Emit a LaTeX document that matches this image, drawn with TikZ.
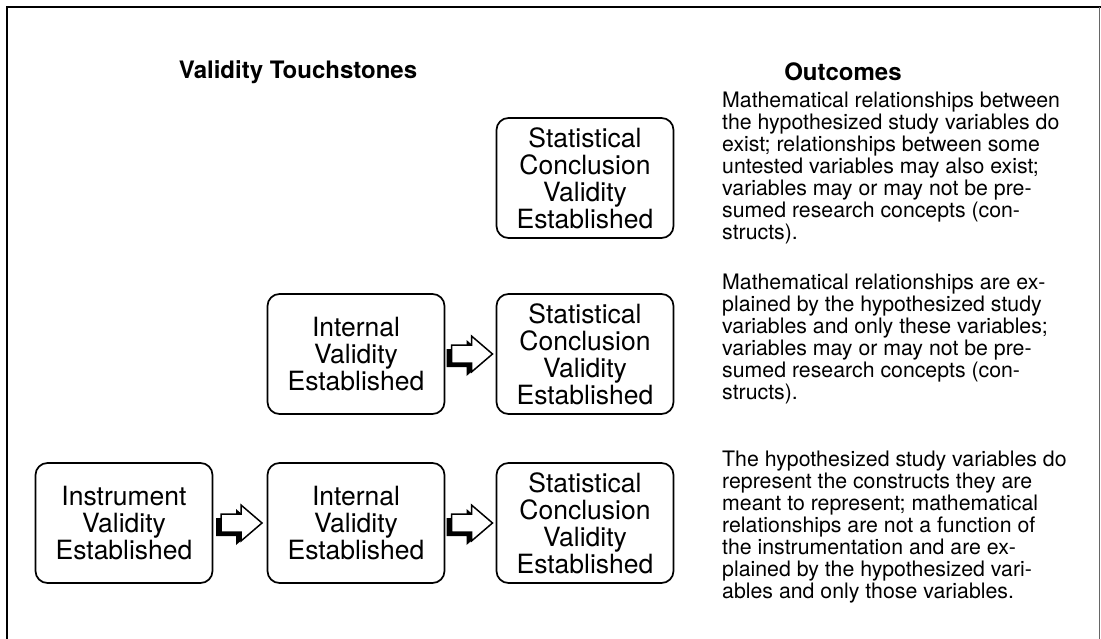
\documentclass[tikz,border=0pt]{standalone}
\usepackage{fontspec}
\setmainfont{TeX Gyre Heros}
\usetikzlibrary{calc}

\tikzset{
  vbox/.style={draw, line width=1.7pt, rounded corners=12pt,
    minimum width=177pt, minimum height=120pt, inner sep=0pt,
    align=center, font=\fontsize{26.5}{27}\selectfont},
  outtext/.style={anchor=north west, align=left, inner sep=0pt,
    font=\fontsize{21.3}{22}\selectfont},
  heading/.style={font=\bfseries\fontsize{24}{28}\selectfont},
  arrowshadow/.style={fill=black},
  arrowface/.style={fill=white, draw=black, line width=1.5pt, line join=miter},
}

% Hollow block arrow with a dark drop shadow, centred between two nodes
\newcommand\flowarrow[2]{%
  \coordinate (fa) at ($(#1.east)!0.5!(#2.west)$);
  \fill[arrowshadow, shift={(fa)}, xshift=-5pt, yshift=-4pt]
    (-19,-9) -- (1,-9) -- (1,-18) -- (22,0) -- (1,18) -- (1,9) -- (-19,9) -- cycle;
  \filldraw[arrowface, shift={(fa)}]
    (-19,-9) -- (1,-9) -- (1,-18) -- (22,0) -- (1,18) -- (1,9) -- (-19,9) -- cycle;
}

\begin{document}
\begin{tikzpicture}[x=1pt, y=-1pt]
  \path[use as bounding box] (0,0) rectangle (1101,639);

  % outer frame
  \draw[line width=2pt] (7,639) -- (7,7) -- (1101,7);
  \draw[line width=0.6pt, black!60] (1099,7) -- (1099,639);

  % column headings
  \node[heading] (h1) at (298,72) {Validity Touchstones};
  \node[heading] (h2) at (843,72) {Outcomes};

  % first row
  \node[vbox] (s1) at (585,178) {Statistical\\Conclusion\\Validity\\Established};

  % second row
  \node[vbox] (i2) at (356,354) {Internal\\Validity\\Established};
  \node[vbox] (s2) at (585,354) {Statistical\\Conclusion\\Validity\\Established};
  \flowarrow{i2}{s2}

  % third row
  \node[vbox] (m3) at (124,523) {Instrument\\Validity\\Established};
  \node[vbox] (i3) at (356,523) {Internal\\Validity\\Established};
  \node[vbox] (s3) at (585,523) {Statistical\\Conclusion\\Validity\\Established};
  \flowarrow{m3}{i3}
  \flowarrow{i3}{s3}

  % outcomes
  \node[outtext] (o1) at (722,92) {Mathematical relationships between\\
    the hypothesized study variables do\\
    exist; relationships between some\\
    untested variables may also exist;\\
    variables may or may not be pre-\\
    sumed research concepts (con-\\
    structs).};
  \node[outtext] (o2) at (722,274) {Mathematical relationships are ex-\\
    plained by the hypothesized study\\
    variables and only these variables;\\
    variables may or may not be pre-\\
    sumed research concepts (con-\\
    structs).};
  \node[outtext] (o3) at (722,451) {The hypothesized study variables do\\
    represent the constructs they are\\
    meant to represent; mathematical\\
    relationships are not a function of\\
    the instrumentation and are ex-\\
    plained by the hypothesized vari-\\
    ables and only those variables.};
\end{tikzpicture}
\end{document}
